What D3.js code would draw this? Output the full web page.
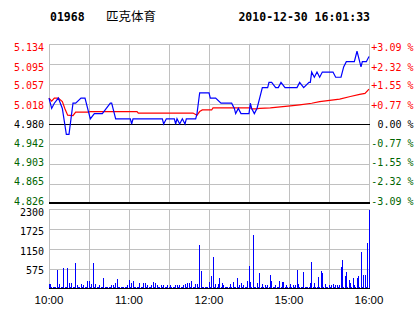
<!DOCTYPE html>
<html>
<head>
<meta charset="utf-8">
<script src="https://cdn.jsdelivr.net/npm/d3@7"></script>
<style>
	body { margin: 0; background: #fff; }
	svg { display: block; }
</style>
</head>
<body>
<svg width="414" height="314"></svg>
<script>
const stockCode = "01968"
const stockName = "匹克体育"
const stamp = "2010-12-30 16:01:33"
const prevClose = 4.98

const priceTicks = ["5.134", "5.095", "5.057", "5.018", "4.980", "4.942", "4.903", "4.865", "4.826"]
const pctTicks = ["+3.09 %", "+2.32 %", "+1.55 %", "+0.77 %", "0.00 %", "-0.77 %", "-1.55 %", "-2.32 %", "-3.09 %"]
const volTicks = [2300, 1725, 1150, 575]
const timeTicks = [0, 60, 120, 180, 240]
const timeLabels = ["10:00", "11:00", "12:00", "15:00", "16:00"]

// [minute, price]
const priceLine = [
	[0, 5.03], [2, 5.01], [4, 5.02], [7, 5.03], [10, 5.01], [13, 4.96], [15, 4.96], [18, 5.02], [20, 5.02],
	[24, 5.03], [27, 5.03], [31, 4.99], [34, 5.00], [40, 5.00], [46, 5.02], [47, 5.02], [50, 4.99], [61, 4.99],
	[62, 4.98], [63, 4.99], [85, 4.99], [86, 4.98], [88, 4.99], [94, 4.99], [95, 4.98], [96, 4.99], [98, 4.98],
	[100, 4.99], [102, 4.98], [103, 4.99], [110, 4.99], [111, 5.00], [112, 5.02], [113, 5.04], [120, 5.04],
	[121, 5.03], [125, 5.03], [129, 5.02], [137, 5.02], [139, 5.01], [140, 5.00], [142, 5.01], [144, 5.00],
	[150, 5.00], [151, 5.02], [152, 5.01], [154, 5.00], [156, 5.01], [158, 5.03], [160, 5.05], [164, 5.05],
	[165, 5.06], [167, 5.06], [170, 5.05], [172, 5.05], [174, 5.06], [177, 5.05], [186, 5.05], [188, 5.06],
	[191, 5.05], [195, 5.06], [196, 5.06], [197, 5.08], [199, 5.07], [201, 5.08], [203, 5.07], [205, 5.08],
	[213, 5.08], [215, 5.07], [219, 5.07], [221, 5.09], [223, 5.10], [229, 5.10], [231, 5.12], [232, 5.11],
	[234, 5.09], [235, 5.10], [238, 5.10], [240, 5.11]
]

// [minute, average price]
const avgLine = [
	[0, 5.030], [2, 5.024], [4, 5.030], [7, 5.030], [10, 5.023], [12, 5.009], [14, 4.997], [18, 4.996],
	[20, 5.003], [29, 5.003], [31, 5.004], [66, 5.004], [67, 5.001], [108, 5.001], [111, 4.997], [113, 5.004],
	[115, 5.007], [122, 5.007], [123, 5.011], [151, 5.011], [152, 5.009], [155, 5.009], [158, 5.010],
	[166, 5.011], [181, 5.015], [188, 5.017], [197, 5.020], [203, 5.023], [218, 5.028], [226, 5.033],
	[233, 5.037], [237, 5.039], [240, 5.047]
]

// volume per minute, 10:00 .. 16:00
const volumes = [
	115, 115, 40, 40, 40, 40, 517, 40, 115, 40, 40, 575, 40, 40, 575, 144, 40, 144, 40, 40, 719, 86, 40, 40, 115, 40, 86, 40, 40, 200,
	200, 40, 115, 719, 40, 115, 40, 40, 86, 40, 40, 290, 40, 40, 40, 40, 40, 86, 86, 40, 144, 260, 40, 40, 40, 40, 40, 40, 40, 86,
	230, 40, 144, 200, 40, 40, 40, 40, 144, 40, 40, 144, 144, 40, 86, 40, 40, 86, 170, 40, 144, 86, 40, 40, 86, 40, 86, 40, 40, 86,
	40, 86, 40, 40, 40, 86, 86, 40, 86, 40, 40, 86, 115, 40, 144, 144, 40, 200, 40, 40, 115, 115, 40, 1236, 489, 40, 40, 40, 40, 40,
	180, 40, 345, 891, 40, 115, 40, 115, 290, 40, 144, 86, 40, 40, 40, 40, 115, 40, 170, 40, 40, 290, 40, 86, 144, 40, 86, 40, 40, 200,
	632, 170, 40, 1524, 40, 40, 144, 40, 431, 40, 115, 40, 86, 40, 86, 40, 374, 200, 40, 40, 86, 40, 40, 200, 40, 170, 170, 40, 86, 40,
	40, 115, 40, 86, 40, 86, 517, 115, 40, 40, 40, 460, 40, 40, 40, 40, 144, 747, 40, 144, 40, 40, 316, 40, 489, 431, 40, 115, 40, 40,
	86, 40, 86, 115, 40, 86, 86, 40, 86, 604, 805, 40, 345, 460, 40, 230, 144, 40, 290, 86, 40, 290, 345, 40, 1035, 40, 374, 374, 40, 1294,
	2240
]

const svg = d3.select("svg")
const mono = "'DejaVu Sans Mono', monospace"
const grey = "#c0c0c0"

const x = d3.scaleLinear().domain([0, 240]).range([49, 369])
const y = d3.scaleLinear().domain([4.826, 5.134]).range([204, 44])
const yLab = d3.scaleLinear().domain([4.826, 5.134]).range([201, 47.5])
const yv = d3.scaleLinear().domain([0, 2300]).range([289, 209])
const yvLab = d3.scaleLinear().domain([575, 2300]).range([270, 212.7])
const px = v => Math.round(v) + 0.5
const labColor = t => +t > prevClose ? "#ff0000" : +t < prevClose ? "#006400" : "#000"
const pctColor = t => t[0] == "+" ? "#ff0000" : t[0] == "-" ? "#006400" : "#000"

// grid
const grid = svg.append("g").attr("stroke", grey).attr("shape-rendering", "crispEdges")
grid.selectAll(".hp")
	.data(priceTicks.slice(0, -1))
	.enter()
	.append("line")
	.attr("x1", x(0)).attr("x2", x(240) + 1)
	.attr("y1", d => px(y(+d))).attr("y2", d => px(y(+d)))
grid.selectAll(".hv")
	.data(volTicks)
	.enter()
	.append("line")
	.attr("x1", x(0)).attr("x2", x(240) + 1)
	.attr("y1", d => px(yv(d))).attr("y2", d => px(yv(d)))
grid.selectAll(".vp")
	.data(d3.range(0, 241, 30))
	.enter()
	.append("line")
	.attr("x1", d => px(x(d))).attr("x2", d => px(x(d)))
	.attr("y1", y(5.134)).attr("y2", y(4.826))
grid.selectAll(".vv")
	.data(d3.range(0, 241, 30))
	.enter()
	.append("line")
	.attr("x1", d => px(x(d))).attr("x2", d => px(x(d)))
	.attr("y1", yv(2300)).attr("y2", yv(0))

// volume bars
svg.append("g").selectAll("rect")
	.data(volumes)
	.enter()
	.append("rect")
	.attr("x", (d, i) => Math.floor(x(i)))
	.attr("width", 1)
	.attr("y", d => Math.round(yv(d)) - 1)
	.attr("height", d => yv(0) - Math.round(yv(d)))
	.attr("fill", "#0000ff")
	.attr("shape-rendering", "crispEdges")

// base lines
const base = svg.append("g").attr("stroke", "#000").attr("shape-rendering", "crispEdges")
base.append("line")
	.attr("x1", x(0)).attr("x2", x(240) + 1)
	.attr("y1", px(y(prevClose))).attr("y2", px(y(prevClose)))
base.append("line")
	.attr("x1", x(0)).attr("x2", x(240) + 1)
	.attr("y1", y(4.826) - 1).attr("y2", y(4.826) - 1)
	.attr("stroke-width", 2)
base.append("line")
	.attr("x1", x(0)).attr("x2", x(240) + 1)
	.attr("y1", yv(0) - 0.5).attr("y2", yv(0) - 0.5)

// lines
const line = d3.line().x(d => x(d[0])).y(d => y(d[1]))
svg.append("path")
	.attr("d", line(avgLine))
	.attr("fill", "none")
	.attr("stroke", "#ff0000")
	.attr("stroke-width", 1.2)
svg.append("path")
	.attr("d", line(priceLine))
	.attr("fill", "none")
	.attr("stroke", "#0000ff")
	.attr("stroke-width", 1.2)

// axis labels
svg.append("g").selectAll("text")
	.data(priceTicks)
	.enter()
	.append("text")
	.attr("x", 44)
	.attr("y", d => yLab(+d))
	.attr("dy", "0.36em")
	.attr("text-anchor", "end")
	.attr("font-family", mono).attr("font-size", 10)
	.attr("fill", labColor)
	.text(d => d)

svg.append("g").selectAll("text")
	.data(pctTicks)
	.enter()
	.append("text")
	.attr("x", 413.5)
	.attr("y", (d, i) => yLab(+priceTicks[i]))
	.attr("dy", "0.36em")
	.attr("text-anchor", "end")
	.attr("font-family", mono).attr("font-size", 10)
	.attr("fill", pctColor)
	.text(d => d)

svg.append("g").selectAll("text")
	.data(volTicks)
	.enter()
	.append("text")
	.attr("x", 44)
	.attr("y", d => yvLab(d))
	.attr("dy", "0.36em")
	.attr("text-anchor", "end")
	.attr("font-family", mono).attr("font-size", 10)
	.attr("fill", "#000")
	.text(d => d)

svg.append("g").selectAll("text")
	.data(timeTicks)
	.enter()
	.append("text")
	.attr("x", d => x(d))
	.attr("y", 304)
	.attr("text-anchor", "middle")
	.attr("font-family", "'Liberation Sans', Arial, sans-serif").attr("font-size", 11.5)
	.attr("fill", "#000")
	.text((d, i) => timeLabels[i])

// title
svg.append("text")
	.attr("x", 50).attr("y", 21)
	.attr("font-family", mono).attr("font-size", 11.5).attr("font-weight", "bold")
	.text(stockCode)
svg.append("text")
	.attr("x", 106).attr("y", 20.5)
	.attr("font-family", "'Noto Sans CJK SC', sans-serif").attr("font-size", 12.5)
	.text(stockName)
svg.append("text")
	.attr("x", 370).attr("y", 21)
	.attr("text-anchor", "end")
	.attr("font-family", mono).attr("font-size", 11.5).attr("font-weight", "bold")
	.text(stamp)
</script>
</body>
</html>
